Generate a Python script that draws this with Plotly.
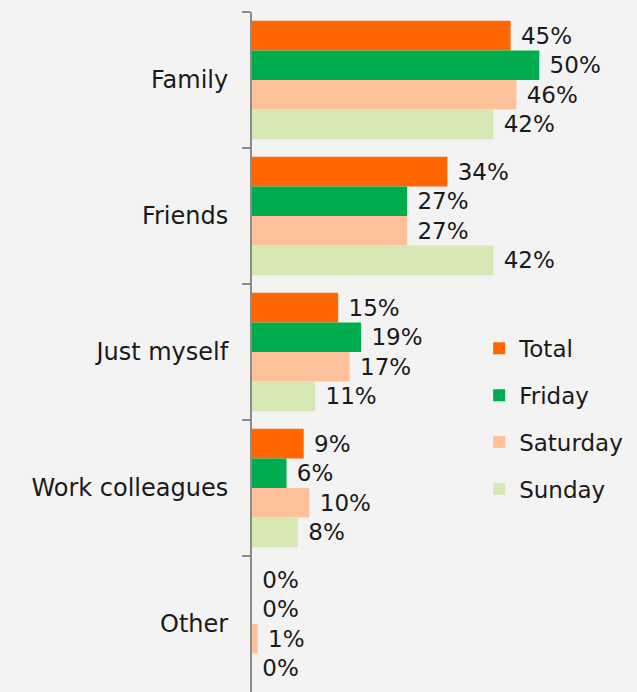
import plotly.graph_objects as go

categories = ["Family", "Friends", "Just myself", "Work colleagues", "Other"]
series_names = ["Total", "Friday", "Saturday", "Sunday"]
total = [45, 34, 15, 9, 0]
friday = [50, 27, 19, 6, 0]
saturday = [46, 27, 17, 10, 1]
sunday = [42, 42, 11, 8, 0]
colors = ["#FF6600", "#00AD4E", "#FFC09A", "#D6E8B4"]

series_values = [total, friday, saturday, sunday]

FONT = "DejaVu Sans"
fig = go.Figure()
for i, (name, vals) in enumerate(zip(series_names, series_values)):
    fig.add_trace(go.Bar(
        name=name,
        y=categories,
        x=vals,
        orientation="h",
        marker=dict(color=colors[i], line=dict(width=0)),
        text=[f" {v}%" for v in vals],
        textposition="outside",
        textfont=dict(family=FONT, size=23, color="#1a1a1a"),
        cliponaxis=False,
        legendgroup=name,
    ))

fig.update_layout(
    width=637, height=692,
    barmode="group",
    bargap=0.13,
    bargroupgap=0,
    uniformtext=dict(minsize=23, mode="show"),
    paper_bgcolor="#f3f3f3",
    plot_bgcolor="rgba(0,0,0,0)",
    margin=dict(l=252, r=0, t=12, b=0),
    font=dict(family=FONT, size=23, color="#1a1a1a"),
    legend=dict(
        x=0.59, y=0.537, xanchor="left", yanchor="top",
        traceorder="grouped", tracegroupgap=14,
        bgcolor="rgba(0,0,0,0)",
        font=dict(family=FONT, size=23, color="#1a1a1a"),
    ),
    showlegend=True,
)
fig.update_xaxes(range=[0, 67], visible=False)
fig.update_yaxes(
    autorange="reversed",
    tickson="boundaries",
    ticks="outside", ticklen=8, tickcolor="#8c8c8c", tickwidth=2,
    showline=True, linecolor="#8c8c8c", linewidth=2,
    showgrid=False,
    ticklabelstandoff=17,
    tickfont=dict(family=FONT, size=24, color="#1a1a1a"),
)

fig.write_html(
    "out.html",
    config={"displayModeBar": False},
    post_script="document.body.style.margin='0';document.body.style.overflow='hidden';",
)
